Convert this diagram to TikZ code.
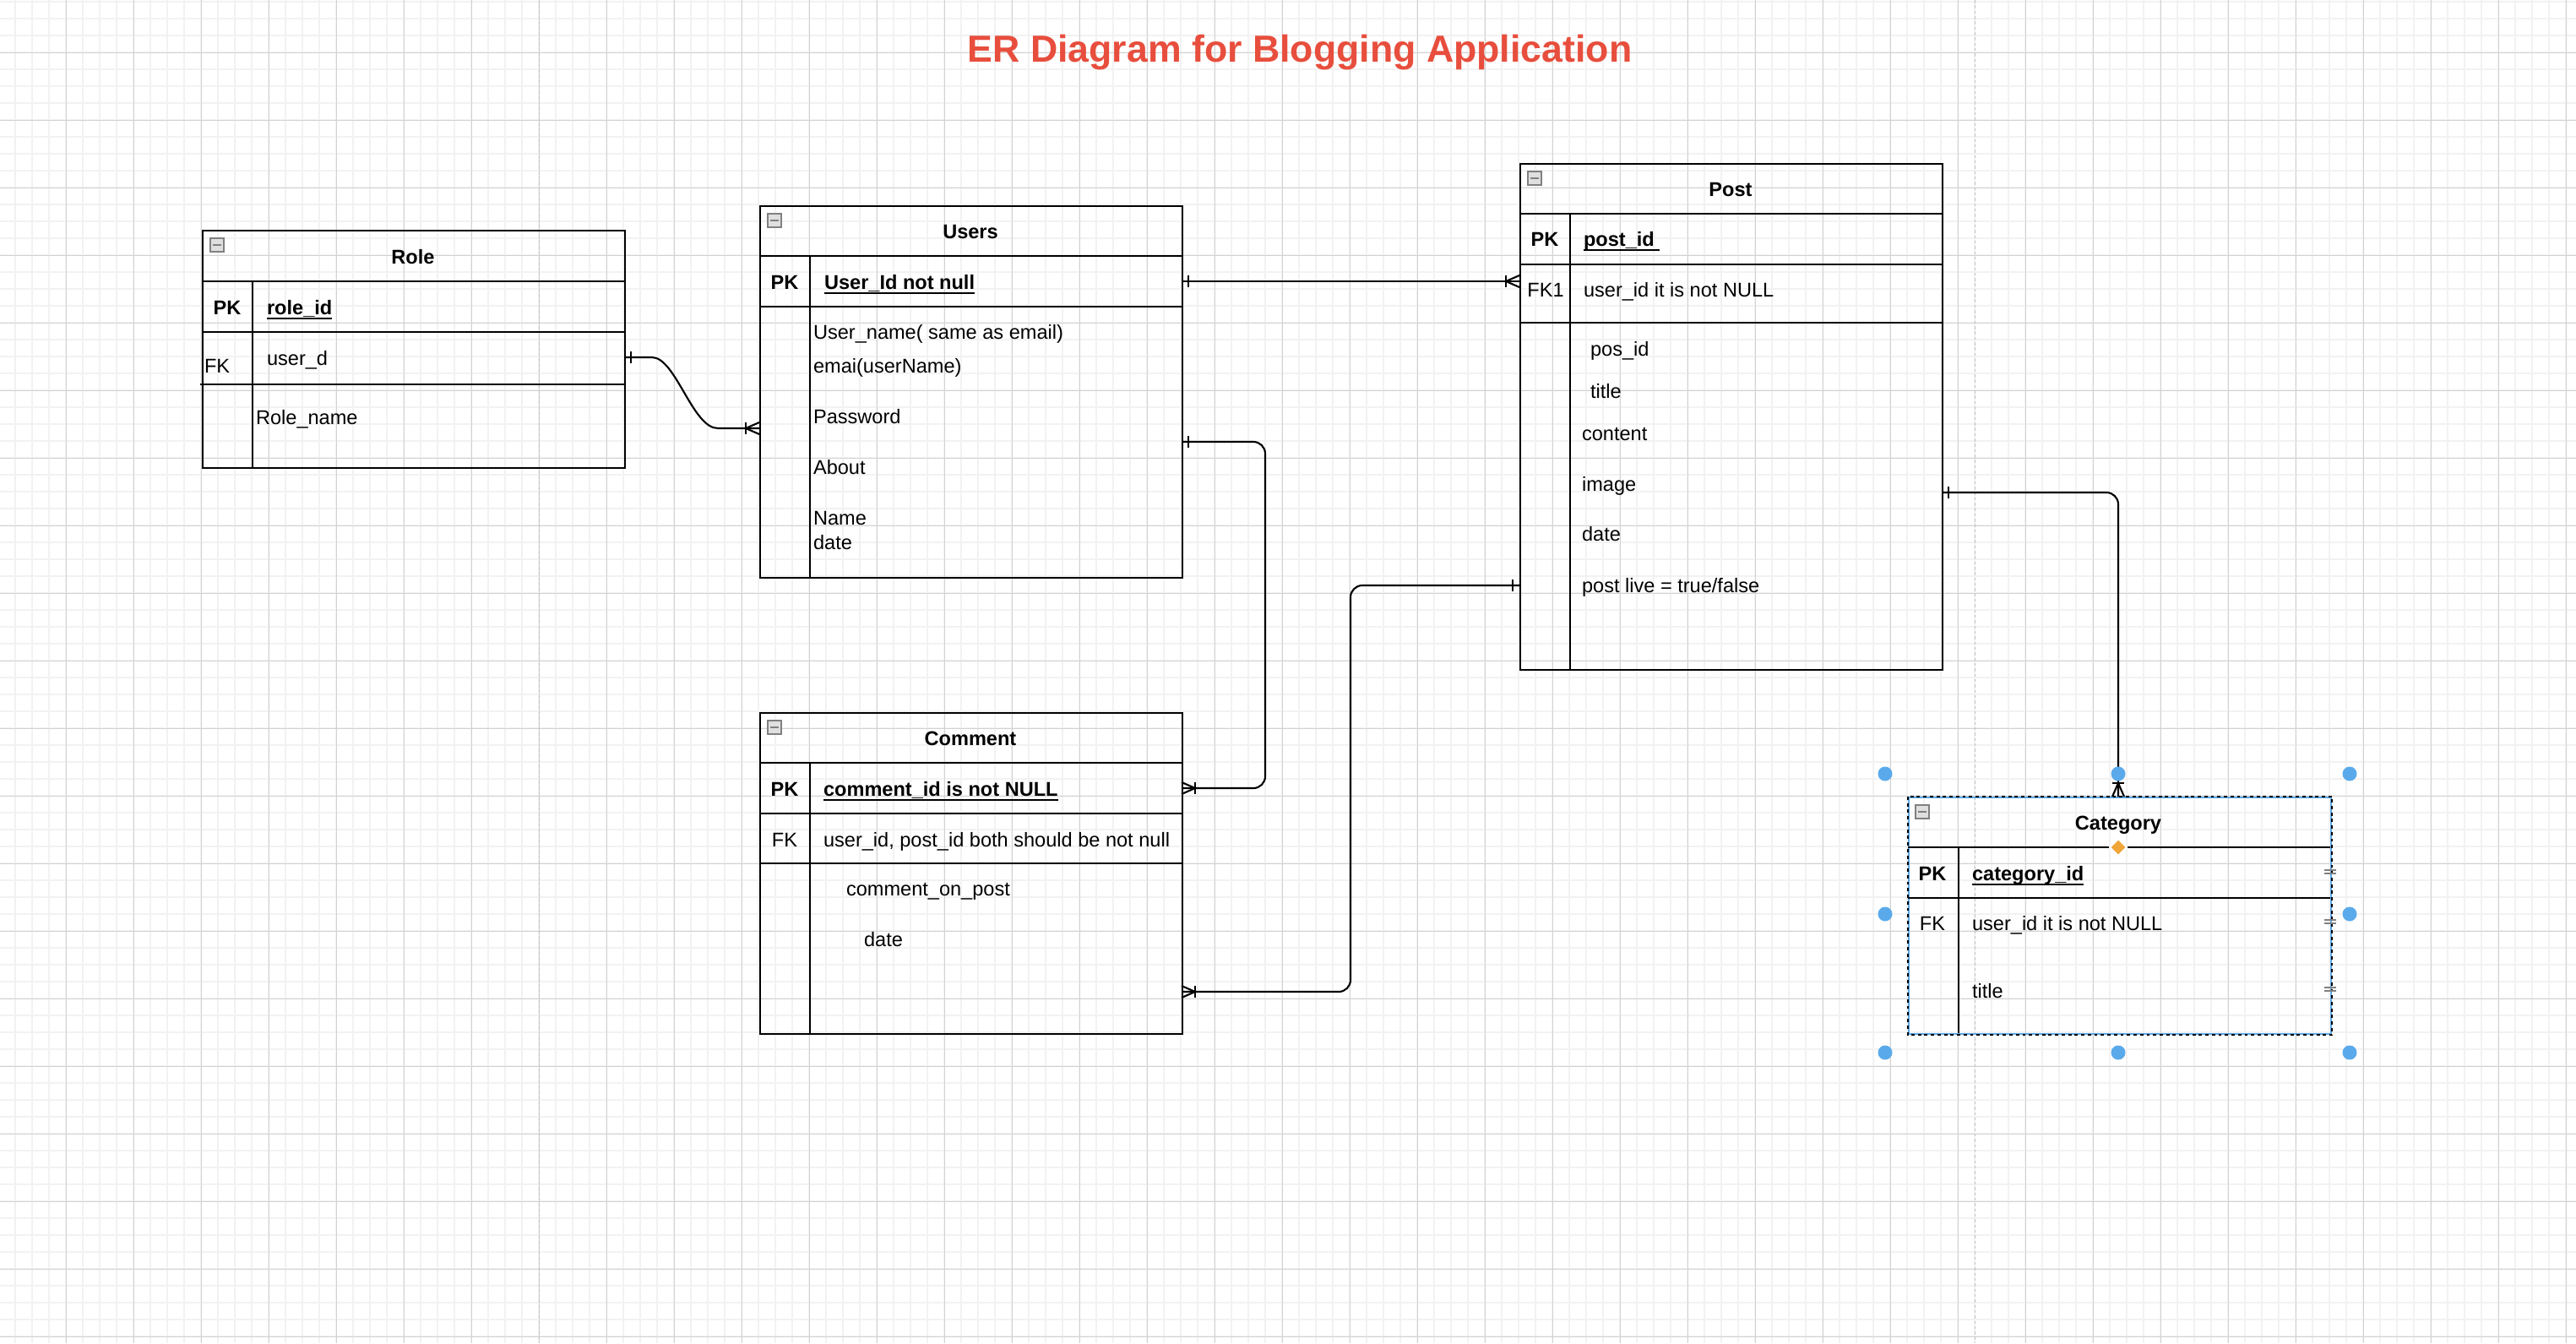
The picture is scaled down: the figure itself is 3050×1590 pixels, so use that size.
\documentclass[tikz,border=0pt]{standalone}
\usepackage{fontspec}
\setmainfont{Liberation Sans}

\definecolor{titlered}{RGB}{232,78,61}
\definecolor{minorgrid}{RGB}{242,242,242}
\definecolor{majorgrid}{RGB}{210,210,210}
\definecolor{pagegray}{RGB}{195,195,195}
\definecolor{selblue}{RGB}{90,170,235}
\definecolor{handleorange}{RGB}{240,165,55}

\tikzset{
  minorln/.style={minorgrid, line width=0.5pt},
  majorln/.style={majorgrid, line width=0.3pt},
  pagebrk/.style={pagegray, line width=0.4pt, dash pattern=on 1pt off 0.8pt},
  tbl/.style={draw, anchor=north west, inner sep=0, minimum width=5cm},
  ttl/.style={anchor=base, inner sep=0, font=\fontsize{6.7}{8}\selectfont\bfseries},
  keycol/.style={anchor=base, inner sep=0, font=\fontsize{6.7}{8}\selectfont},
  fld/.style={anchor=base west, inner sep=0, font=\fontsize{6.7}{8}\selectfont},
  pkf/.style={anchor=base west, inner sep=0, font=\fontsize{6.7}{8}\selectfont\bfseries},
  minusbox/.style={draw=gray, fill=gray!25, minimum size=0.16cm, inner sep=0,
    path picture={\draw[line width=0.6pt] ([xshift=-0.05cm]path picture bounding box.center)
      -- ([xshift=0.05cm]path picture bounding box.center);}},
  link/.style={line width=0.6pt},
  elbow/.style={line width=0.6pt, rounded corners=0.14cm},
  crowfoot/.pic={\draw (0,-7) -- (16,0) -- (0,7); \draw (16,-7) -- (16,7);},
  onebar/.pic={\draw (8,-7) -- (8,7);},
}

\begin{document}
\begin{tikzpicture}[x=0.01cm, y=-0.01cm, line width=0.6pt]
  \useasboundingbox[fill=white] (0,0) rectangle (3050,1590);

  % grid
  \foreach \i in {0,...,153} \draw[minorln] (\i*20-1.7,0) -- (\i*20-1.7,1590);
  \foreach \j in {0,...,80} \draw[minorln] (0,\j*20+2.3) -- (3050,\j*20+2.3);
  \foreach \i in {0,...,37} \draw[majorln] (\i*80+78.3,0) -- (\i*80+78.3,1590);
  \foreach \j in {0,...,19} \draw[majorln] (0,\j*80+62.3) -- (3050,\j*80+62.3);
  \draw[pagebrk] (638.6,0) -- (638.6,1590);
  \draw[pagebrk] (2338.4,0) -- (2338.4,1590);

  \node[anchor=base, inner sep=0, text=titlered, font=\fontsize{12.7}{15}\selectfont\bfseries] (title) at (1539,73) {ER Diagram for Blogging Application};

  % Role
  \node[tbl, minimum height=2.81cm] (role) at (239,272) {};
  \draw (239,333) -- (739,333);
  \draw (239,393) -- (739,393);
  \draw (237,455) -- (739,455);
  \draw (299,333) -- (299,553);
  \node[minusbox] (roleMin) at (257,290) {};
  \node[ttl] (roleT) at (489,312) {Role};
  \node[ttl] (rolePK) at (269,372) {PK};
  \node[pkf] (roleId) at (315,372) {\underline{\smash{role\_id}}};
  \node[fld] (roleFKk) at (241,441) {FK};
  \node[fld] (roleUser) at (315,432) {user\_d};
  \node[fld] (roleName) at (302,502) {Role\_name};

  % Users
  \node[tbl, minimum height=4.4cm] (users) at (899,243) {};
  \draw (899,303) -- (1399,303);
  \draw (899,363) -- (1399,363);
  \draw (959,303) -- (959,683);
  \node[minusbox] (usersMin) at (917,261) {};
  \node[ttl] (usersT) at (1149,282) {Users};
  \node[ttl] (usersPK) at (929,342) {PK};
  \node[pkf] (usersId) at (975,342) {\underline{\smash{User\_Id not null}}};
  \node[fld] (usersName) at (962,401) {User\_name( same as email)};
  \node[fld] (usersMail) at (962,441) {emai(userName)};
  \node[fld] (usersPw) at (962,501) {Password};
  \node[fld] (usersAbout) at (962,561) {About};
  \node[fld] (usersFull) at (962,621) {Name};
  \node[fld] (usersDate) at (962,650) {date};

  % Post
  \node[tbl, minimum height=5.99cm] (post) at (1799,193) {};
  \draw (1799,253) -- (2299,253);
  \draw (1799,313) -- (2299,313);
  \draw (1799,382) -- (2299,382);
  \draw (1859,253) -- (1859,792);
  \node[minusbox] (postMin) at (1817,211) {};
  \node[ttl] (postT) at (2049,232) {Post};
  \node[ttl] (postPK) at (1829,291) {PK};
  \node[pkf] (postId) at (1874,291) {\underline{\smash{post\_id\ }}};
  \node[keycol] (postFK) at (1830,351) {FK1};
  \node[fld] (postUser) at (1874,351) {user\_id it is not NULL};
  \node[fld] (postPos) at (1882,421) {pos\_id};
  \node[fld] (postTitle) at (1882,471) {title};
  \node[fld] (postContent) at (1872,521) {content};
  \node[fld] (postImage) at (1872,581) {image};
  \node[fld] (postDate) at (1872,640) {date};
  \node[fld] (postLive) at (1872,701) {post live = true/false};

  % Comment
  \node[tbl, minimum height=3.8cm] (com) at (899,843) {};
  \draw (899,903) -- (1399,903);
  \draw (899,963) -- (1399,963);
  \draw (899,1022) -- (1399,1022);
  \draw (959,903) -- (959,1223);
  \node[minusbox] (comMin) at (917,861) {};
  \node[ttl] (comT) at (1149,882) {Comment};
  \node[ttl] (comPKk) at (929,942) {PK};
  \node[pkf] (comId) at (974,942) {\underline{\smash{comment\_id is not NULL}}};
  \node[keycol] (comFK) at (929,1002) {FK};
  \node[fld] (comUser) at (974,1002) {user\_id, post\_id both should be not null};
  \node[fld] (comText) at (1001,1060) {comment\_on\_post};
  \node[fld] (comDate) at (1022,1120) {date};

  % Category (selected)
  \node[tbl, draw=selblue, minimum height=2.8cm] (cat) at (2259,943) {};
  \draw[dash pattern=on 1.1pt off 1.1pt] (cat.north west) rectangle (cat.south east);
  \draw (2259,1003) -- (2759,1003);
  \draw (2259,1063) -- (2759,1063);
  \draw (2319,1003) -- (2319,1223);
  \node[minusbox] (catMin) at (2276,961) {};
  \node[ttl] (catT) at (2508,982) {Category};
  \node[ttl] (catPK) at (2288,1042) {PK};
  \node[pkf] (catId) at (2334,1042) {\underline{\smash{category\_id}}};
  \node[keycol] (catFK) at (2288,1101) {FK};
  \node[fld] (catUser) at (2334,1101) {user\_id it is not NULL};
  \node[fld] (catTitle) at (2334,1181) {title};

  % connector ends
  \coordinate (roleOut) at (739,423);
  \coordinate (usersIn) at (899,507);
  \coordinate (usersOut1) at (1399,333);
  \coordinate (postIn) at (1799,333);
  \coordinate (usersOut2) at (1399,523);
  \coordinate (comIn1) at (1399,933);
  \coordinate (postOut1) at (1799,693);
  \coordinate (comIn2) at (1399,1174);
  \coordinate (postOut2) at (2299,583);
  \coordinate (catIn) at (2508,943);

  \draw[link] (roleOut) -- (772,423) .. controls (800,423) and (820,507) .. (850,507) -- (usersIn);
  \draw[link] (usersOut1) -- (postIn);
  \draw[elbow] (usersOut2) -| (1498,933) -- (comIn1);
  \draw[elbow] (postOut1) -| (1599,1174) -- (comIn2);
  \draw[elbow] (postOut2) -| (catIn);

  \pic at (roleOut) {onebar};
  \pic at (usersOut1) {onebar};
  \pic at (usersOut2) {onebar};
  \pic[rotate=180] at (postOut1) {onebar};
  \pic at (postOut2) {onebar};
  \pic[rotate=180] at (usersIn) {crowfoot};
  \pic[rotate=180] at (postIn) {crowfoot};
  \pic at (comIn1) {crowfoot};
  \pic at (comIn2) {crowfoot};
  \pic[rotate=90] at (catIn) {crowfoot};

  % selection handles
  \filldraw[fill=handleorange, draw=white] (2508,993) -- (2518,1003) -- (2508,1013) -- (2498,1003) -- cycle;
  \foreach \p in {(2232,916),(2508,916),(2782,916),(2232,1082),(2782,1082),(2232,1246),(2508,1246),(2782,1246)}
    \fill[selblue] \p circle (0.085cm);
  \foreach \q in {1032,1091,1171}
    \draw[gray, line width=0.4pt] (2752,\q-2) -- (2766,\q-2) (2752,\q+2) -- (2766,\q+2);
\end{tikzpicture}
\end{document}
